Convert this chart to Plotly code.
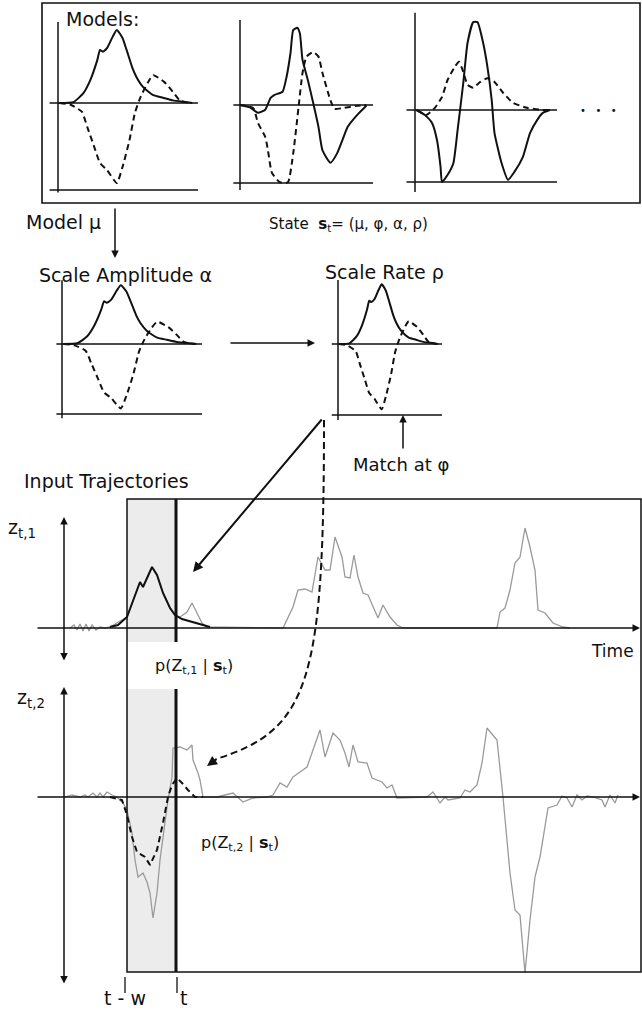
import plotly.graph_objects as go

# ---------------- data ----------------
# model templates, normalised: x = 0..1 along the template, y: zero line = 0, lower line = -1
m1_solid_x = [0.01, 0.11, 0.18, 0.23, 0.28, 0.30, 0.32, 0.35, 0.39, 0.42, 0.46, 0.49, 0.53, 0.56, 0.61, 0.68, 0.75, 0.82, 0.92, 0.96]
m1_solid_y = [0.0, 0.01, 0.11, 0.26, 0.49, 0.61, 0.59, 0.63, 0.76, 0.84, 0.75, 0.61, 0.41, 0.30, 0.18, 0.09, 0.06, 0.03, 0.01, 0.0]
m1_dash_x = [0.01, 0.09, 0.17, 0.21, 0.26, 0.30, 0.35, 0.42, 0.46, 0.51, 0.55, 0.59, 0.64, 0.68, 0.76, 0.82, 0.87, 0.94]
m1_dash_y = [0.0, -0.02, -0.10, -0.28, -0.51, -0.69, -0.77, -0.92, -0.74, -0.43, -0.11, 0.07, 0.23, 0.32, 0.24, 0.13, 0.03, 0.0]

m2_solid_x = [0.0, 0.075, 0.135, 0.19, 0.23, 0.26, 0.32, 0.35, 0.38, 0.40, 0.43, 0.45, 0.47, 0.51, 0.55, 0.59, 0.62, 0.68, 0.73, 0.77, 0.81, 0.88, 0.95]
m2_solid_y = [0.0, -0.03, -0.10, -0.06, 0.09, 0.13, 0.17, 0.36, 0.67, 0.96, 0.99, 0.92, 0.58, 0.32, 0.03, -0.28, -0.58, -0.74, -0.62, -0.45, -0.28, -0.13, -0.01]
m2_dash_x = [0.0, 0.10, 0.135, 0.19, 0.21, 0.24, 0.30, 0.36, 0.40, 0.44, 0.47, 0.50, 0.55, 0.59, 0.62, 0.68, 0.71, 0.77, 0.88, 0.95]
m2_dash_y = [0.0, -0.04, -0.23, -0.41, -0.58, -0.87, -0.99, -0.99, -0.62, -0.03, 0.41, 0.62, 0.68, 0.62, 0.41, 0.06, -0.05, -0.04, -0.01, 0.0]

m3_solid_x = [0.01, 0.07, 0.12, 0.155, 0.18, 0.19, 0.23, 0.27, 0.30, 0.34, 0.37, 0.41, 0.44, 0.48, 0.51, 0.54, 0.56, 0.61, 0.655, 0.70, 0.76, 0.81, 0.86, 0.90, 0.95]
m3_solid_y = [0.0, -0.07, -0.18, -0.42, -0.79, -1.0, -0.90, -0.74, -0.28, 0.375, 0.93, 1.22, 1.22, 0.93, 0.60, 0.14, -0.32, -0.74, -0.97, -0.86, -0.65, -0.32, -0.14, -0.04, 0.0]
m3_dash_x = [0.01, 0.08, 0.14, 0.19, 0.23, 0.28, 0.31, 0.34, 0.37, 0.41, 0.46, 0.51, 0.56, 0.62, 0.69, 0.79, 0.90, 0.95]
m3_dash_y = [0.0, -0.07, 0.03, 0.18, 0.42, 0.60, 0.67, 0.53, 0.35, 0.31, 0.39, 0.44, 0.39, 0.24, 0.10, 0.03, 0.0, 0.0]

# input trajectories: time steps and values
z1_t = [6, 10, 13, 16, 19, 22, 25, 28, 32, 36, 41, 46, 63, 73, 76, 79, 84, 88, 93, 99, 106, 111, 116, 123, 128, 133, 138, 143,
        219, 229, 234, 241, 248, 254, 261, 266, 271, 278, 281, 286, 290, 294, 299, 304, 309, 314, 319, 326, 333, 339,
        433, 436, 441, 446, 451, 456, 461, 466, 471, 474, 481, 489, 499, 506]
z1_v = [0, 3, -2, 4, -3, 4, -3, 3, -2, 1, 0, 1, 11, 38, 46, 41, 53, 61, 53, 35, 20, 13, 11, 16, 25, 15, 5, 1,
        0, 21, 38, 39, 36, 71, 58, 58, 91, 71, 51, 50, 73, 51, 35, 33, 21, 10, 23, 11, 3, 0,
        0, 16, 20, 38, 65, 71, 100, 81, 58, 18, 15, 5, 1, 0]
z1_model_t = [46, 54, 63, 73, 76, 79, 84, 88, 93, 99, 106, 111, 118, 129, 139, 146]
z1_model_v = [1, 3, 11, 38, 46, 41, 53, 61, 53, 35, 20, 13, 9, 6, 3, 1]

z2_t = [1, 8, 16, 21, 24, 29, 33, 36, 39, 43, 48, 53, 59, 63, 68, 71, 74, 79, 83, 86, 89, 93, 96, 101, 104, 108, 109, 116,
        123, 128, 129, 134, 136, 139, 153, 169, 173, 179, 189, 203, 209, 216, 223, 229, 236, 243, 249, 256, 261, 269,
        276, 281, 285, 289, 294, 303, 308, 318, 323, 328, 333, 363, 369, 376, 381, 384, 396, 401, 406, 413, 418, 423,
        433, 439, 446, 451, 456, 461, 466, 471, 476, 484, 493, 498, 503, 508, 513, 518, 523, 529, 538, 541, 546, 551, 554]
z2_v = [0, 2, 0, 2, 0, 4, 0, 4, 0, 5, 2, 0, -6, -13, -36, -63, -80, -76, -85, -96, -121, -96, -63, -23, -3, 20, 49, 50,
        47, 52, 37, 24, 17, 0, 0, 4, 0, -5, -1, 0, 2, 14, 10, 20, 25, 30, 47, 67, 40, 64,
        57, 44, 30, 52, 35, 34, 19, 15, 9, 12, -1, 0, 5, -6, 0, -3, -1, 7, 5, 12, 34, 69,
        57, 0, -76, -113, -118, -176, -123, -80, -60, -11, -8, 1, -1, -10, 2, -3, 1, 0, -3, -10, 2, -6, 2]
z2_model_t = [46, 58, 63, 68, 73, 81, 86, 93, 99, 104, 108, 113, 118, 124, 131, 139]
z2_model_v = [0, -3, -18, -40, -55, -60, -68, -53, -26, 0, 12, 19, 14, 7, 0, 0]

# ---------------- layout geometry (page pixels) ----------------
FW, FH = 642, 1011
BLACK = "#111111"
GREY = "#9a9a9a"
FONT = "DejaVu Sans"

fig = go.Figure()

layout = dict(
    width=FW, height=FH, margin=dict(l=0, r=0, t=0, b=0),
    paper_bgcolor="white", plot_bgcolor="rgba(0,0,0,0)",
    showlegend=False, font=dict(family=FONT, color=BLACK),
    xaxis=dict(domain=[0, 1], range=[0, FW], visible=False, fixedrange=True),
    yaxis=dict(domain=[0, 1], range=[FH, 0], visible=False, fixedrange=True),
)

def add_axes(n, x0, y0, x1, y1, xr, yr):
    layout[f"xaxis{n}"] = dict(domain=[x0 / FW, x1 / FW], range=xr, visible=False,
                               anchor=f"y{n}", fixedrange=True)
    layout[f"yaxis{n}"] = dict(domain=[1 - y1 / FH, 1 - y0 / FH], range=yr, visible=False,
                               anchor=f"x{n}", fixedrange=True)

# model panels: (axis id, axis x, zero y, width, height, bbox, vertical top, vertical bottom, line left, curves)
panels = [
    (2, 58, 103, 140, 87, (45, 12, 202, 197), 0.93, -1.03, -0.06, m1_solid_x, m1_solid_y, m1_dash_x, m1_dash_y),
    (3, 240, 105, 133, 78, (225, 12, 378, 197), 1.09, -1.09, -0.05, m2_solid_x, m2_solid_y, m2_dash_x, m2_dash_y),
    (4, 415, 110, 142, 72, (400, 8, 562, 197), 1.35, -1.14, -0.06, m3_solid_x, m3_solid_y, m3_dash_x, m3_dash_y),
    (5, 62, 344, 140, 70, (50, 276, 206, 424), 0.91, -1.06, -0.04, m1_solid_x, m1_solid_y, m1_dash_x, m1_dash_y),
    (6, 338, 344, 104, 71, (326, 276, 446, 424), 0.90, -1.07, -0.06, m1_solid_x, m1_solid_y, m1_dash_x, m1_dash_y),
]
for (n, ax, zy, w, h, bb, vt, vb, lx, sx, sy, dx, dy) in panels:
    x0, y0, x1, y1 = bb
    add_axes(n, x0, y0, x1, y1, [(x0 - ax) / w, (x1 - ax) / w], [(zy - y1) / h, (zy - y0) / h])
    xa, ya = f"x{n}", f"y{n}"
    fig.add_trace(go.Scatter(x=[0, 0, None, lx, 1, None, lx, 1], y=[vt, vb, None, 0, 0, None, -1, -1],
                             mode="lines", line=dict(color=BLACK, width=1.5), xaxis=xa, yaxis=ya, hoverinfo="skip"))
    fig.add_trace(go.Scatter(x=dx, y=dy, mode="lines",
                             line=dict(color=BLACK, width=2, dash="6px,4px", shape="spline", smoothing=0.5),
                             xaxis=xa, yaxis=ya, hoverinfo="skip"))
    fig.add_trace(go.Scatter(x=sx, y=sy, mode="lines",
                             line=dict(color=BLACK, width=2, shape="spline", smoothing=0.5),
                             xaxis=xa, yaxis=ya, hoverinfo="skip"))

# trajectory panels (time axis: vertical arrow at page x 64)
add_axes(7, 0, 500, FW, 680, [-64, FW - 64], [628 - 680, 628 - 500])
add_axes(8, 0, 690, FW, 990, [-64, FW - 64], [797 - 990, 797 - 690])
fig.add_trace(go.Scatter(x=z1_t, y=z1_v, mode="lines", line=dict(color=GREY, width=1.3),
                         xaxis="x7", yaxis="y7", hoverinfo="skip"))
fig.add_trace(go.Scatter(x=z1_model_t, y=z1_model_v, mode="lines", line=dict(color=BLACK, width=2),
                         xaxis="x7", yaxis="y7", hoverinfo="skip"))
fig.add_trace(go.Scatter(x=z2_t, y=z2_v, mode="lines", line=dict(color=GREY, width=1.3),
                         xaxis="x8", yaxis="y8", hoverinfo="skip"))
fig.add_trace(go.Scatter(x=z2_model_t, y=z2_model_v, mode="lines", line=dict(color=BLACK, width=2, dash="6px,4px"),
                         xaxis="x8", yaxis="y8", hoverinfo="skip"))

# ---------------- shapes on the canvas (page pixel coordinates) ----------------
shapes = []
def rect(x0, y0, x1, y1, width=1.5, fill=None, layer="above"):
    d = dict(type="rect", xref="x", yref="y", x0=x0, y0=y0, x1=x1, y1=y1, layer=layer)
    if fill:
        d.update(fillcolor=fill, line=dict(width=0))
    else:
        d.update(line=dict(color=BLACK, width=width))
    shapes.append(d)

def line(x0, y0, x1, y1, width=1.5, dash=None):
    shapes.append(dict(type="line", xref="x", yref="y", x0=x0, y0=y0, x1=x1, y1=y1,
                       line=dict(color=BLACK, width=width, dash=dash)))

rect(127, 499, 176, 642, fill="#ececec", layer="below")
rect(127, 689, 176, 972, fill="#ececec", layer="below")
rect(42, 3, 640, 203, width=1.6)
rect(127, 499, 641, 972, width=1.5)
line(176, 499, 176, 642, width=3)
line(176, 689, 176, 972, width=3)
line(125, 977, 125, 993, width=1.3)
line(177, 977, 177, 993, width=1.3)
shapes.append(dict(type="path", xref="x", yref="y", path="M 324,420 C 324,680 310,730 216,759",
                   line=dict(color=BLACK, width=2, dash="7px,4px")))
layout["shapes"] = shapes

# ---------------- arrows and text ----------------
ann = []
def arrow(x, y, axp, ayp, width=1.5, both=False, size=1.0):
    ann.append(dict(x=x, y=y, ax=axp, ay=ayp, xref="x", yref="y", axref="x", ayref="y", text="",
                    showarrow=True, arrowhead=2, arrowsize=size, arrowwidth=width, arrowcolor=BLACK,
                    arrowside="end+start" if both else "end", standoff=0, startstandoff=0))

arrow(115, 258, 115, 207)
arrow(315, 343, 229, 343)
arrow(403, 415, 403, 450)
arrow(193, 572, 323, 418, width=2)
arrow(207, 766, 218, 758, width=2)
arrow(64, 517, 64, 662, both=True)
arrow(64, 687, 64, 985, both=True)
arrow(640, 628, 36, 628)
arrow(640, 797, 36, 797)

def text(x, y, s, size, anchor="left"):
    ann.append(dict(x=x, y=y, xref="x", yref="y", text=s, showarrow=False, xanchor=anchor,
                    yanchor="middle", font=dict(size=size, family=FONT, color=BLACK)))

text(64, 19, "Models:", 19)
text(24, 222, "Model μ", 19)
text(267, 224, "State  <b>s</b><sub>t</sub>= (μ, φ, α, ρ)", 15)
text(37, 275, "Scale Amplitude α", 19)
text(323, 272, "Scale Rate ρ", 19)
text(351, 464, "Match at φ", 18)
text(22, 481, "Input Trajectories", 19)
text(6, 528, "z<sub>t,1</sub>", 19)
text(15, 698, "z<sub>t,2</sub>", 19)
text(589, 651, "Time", 17)
text(153, 666, "p(Z<sub>t,1</sub> | <b>s</b><sub>t</sub>)", 16)
text(199, 843, "p(Z<sub>t,2</sub> | <b>s</b><sub>t</sub>)", 16)
text(102, 998, "t - w", 19)
text(178, 998, "t", 19)
text(598, 110, "•   •   •", 10, anchor="center")
layout["annotations"] = ann

fig.update_layout(**layout)
# remove the page's default body margin so page pixels equal figure pixels
fig.write_html("out.html", config={"displayModeBar": False},
               post_script="document.body.style.margin='0';document.body.style.overflow='hidden';")
